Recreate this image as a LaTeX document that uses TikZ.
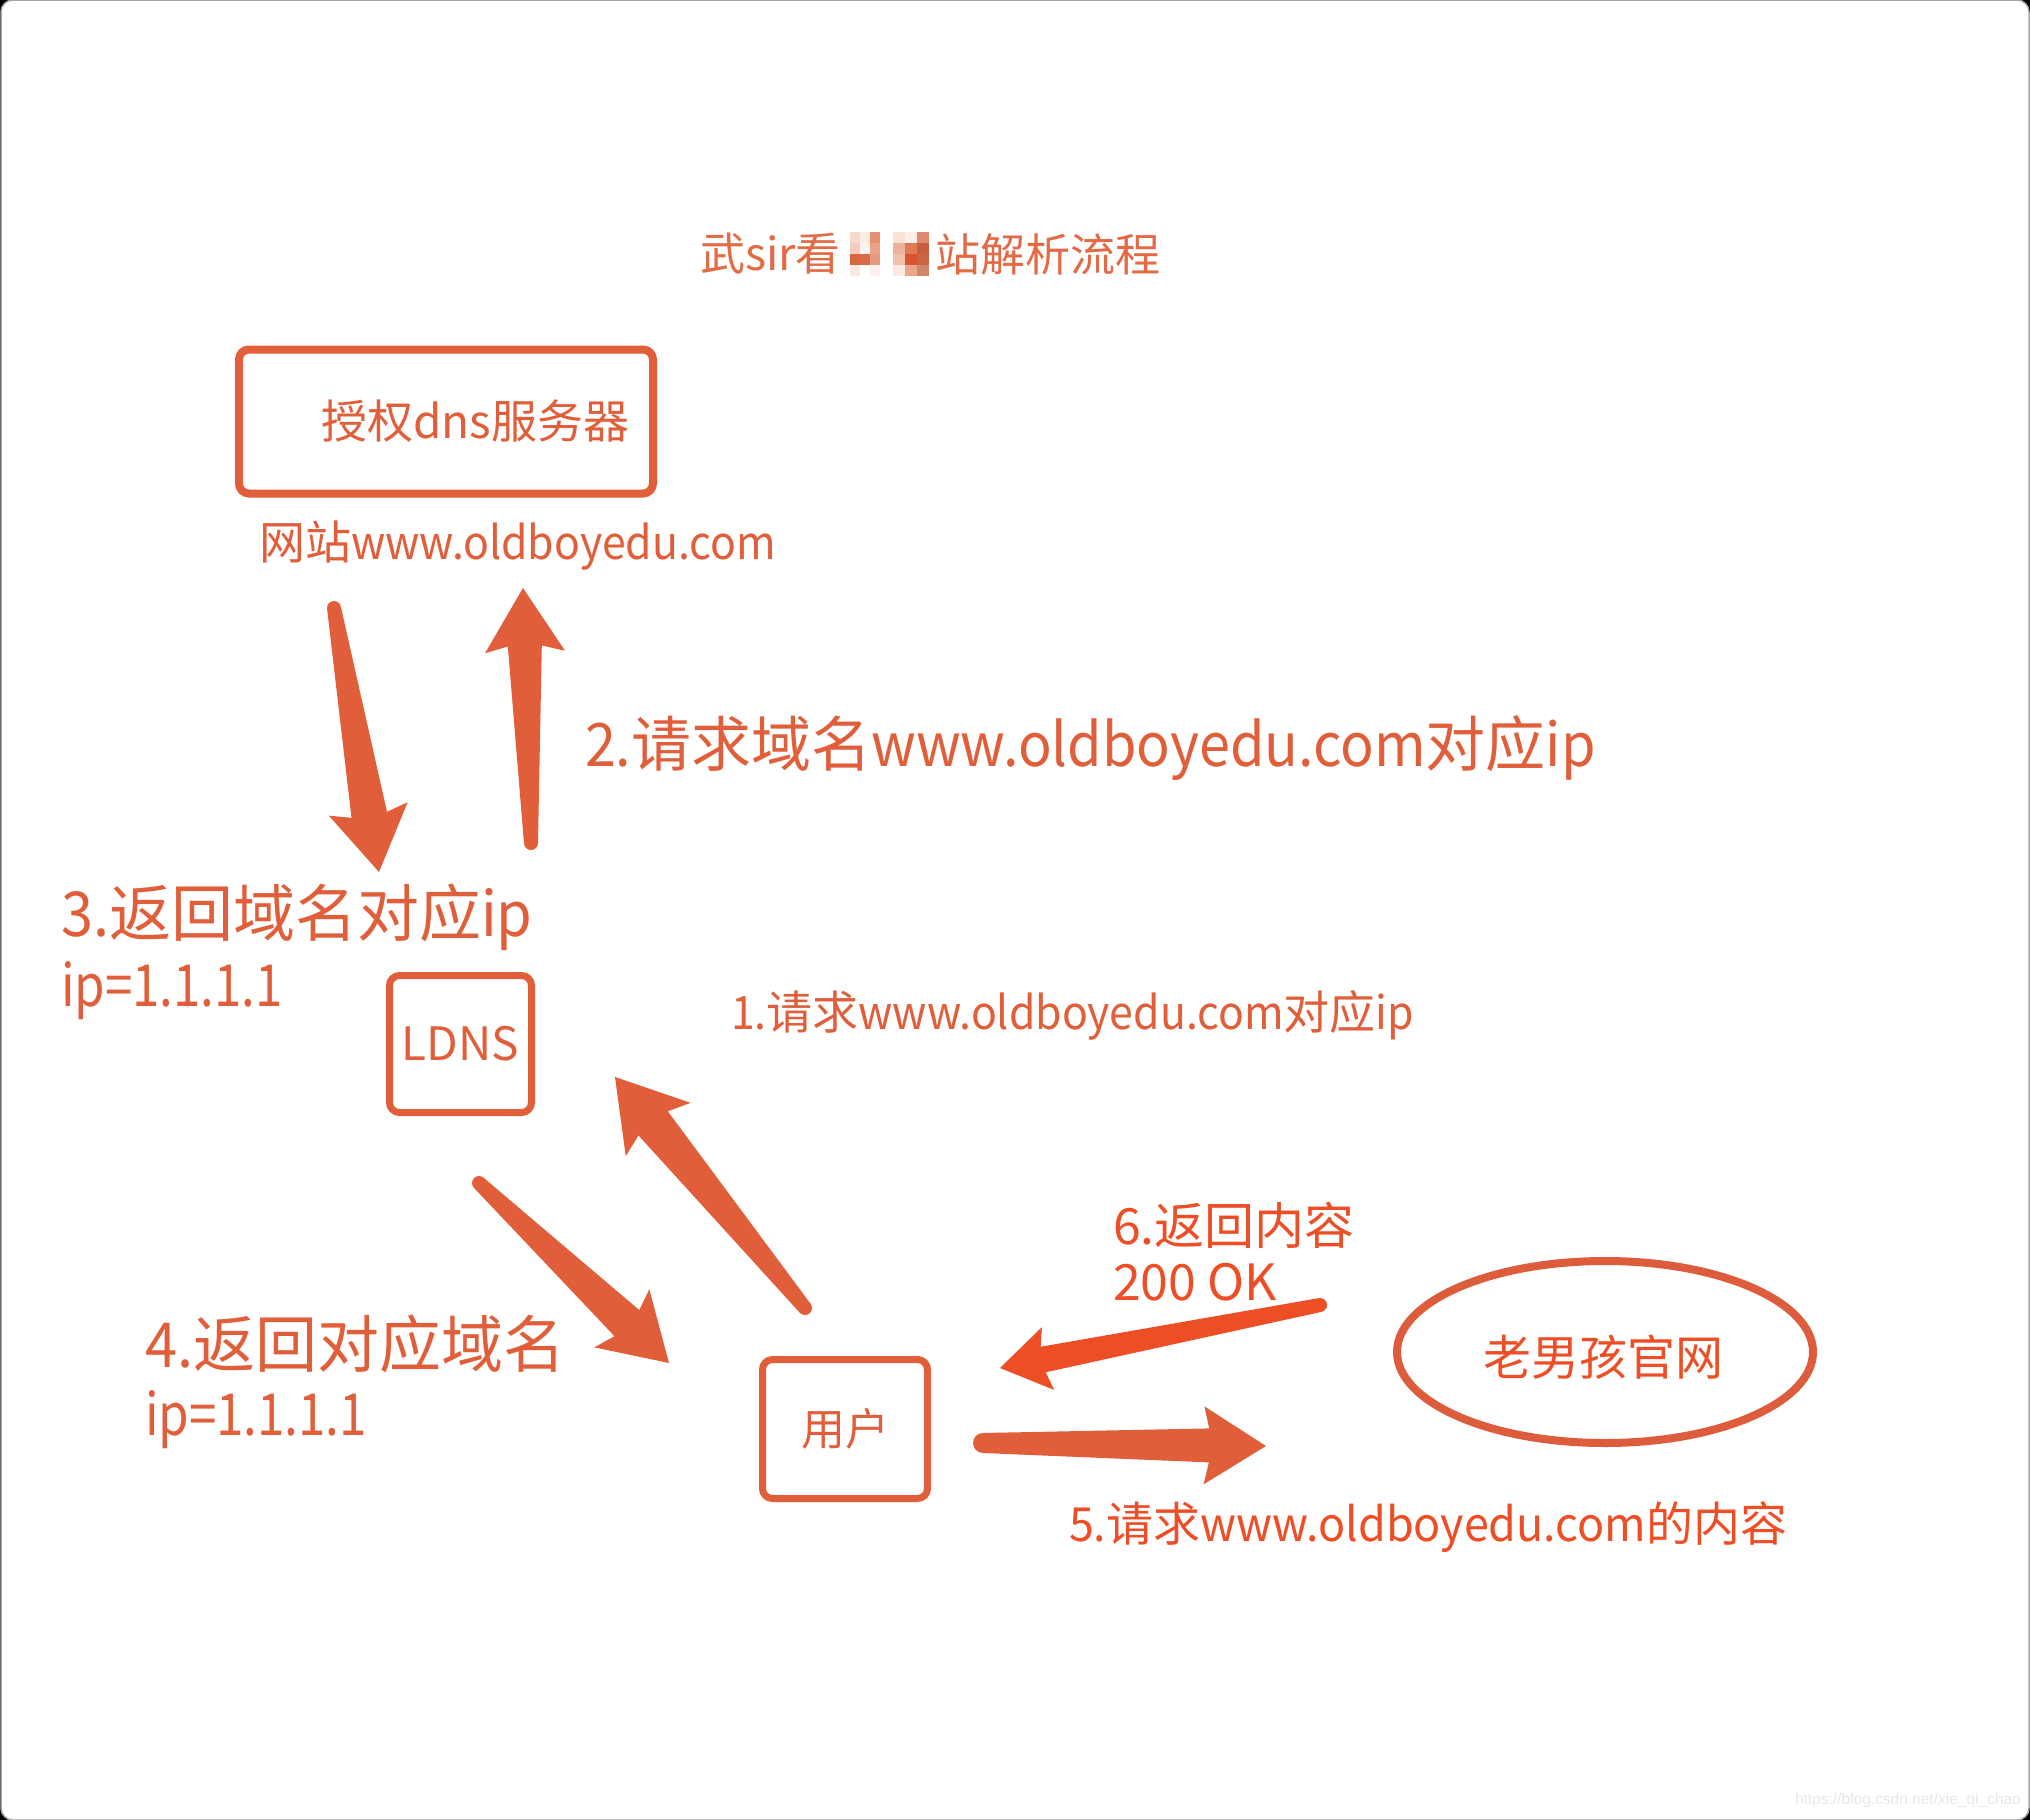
\documentclass[tikz,border=0pt]{standalone}
\usepackage{fontspec}
\setmainfont{Noto Sans CJK SC}
\newfontfamily\lat[FakeStretch=0.93]{Noto Sans CJK SC}
\newfontfamily\latb[FakeStretch=0.955]{Noto Sans CJK SC}
\newfontfamily\latn[FakeStretch=0.85]{Noto Sans CJK SC}
\newfontfamily\wmfont{Liberation Sans}
\usetikzlibrary{calc,shapes.geometric}
\definecolor{org}{HTML}{E05F3A}
\definecolor{ttl}{HTML}{E36A45}
\definecolor{redo}{HTML}{EE4E25}
\definecolor{elc}{HTML}{DC5C3C}
\newcommand\fs[1]{\fontsize{#1}{#1}\selectfont}
\newcommand\lt[1]{{\lat #1}}
\newcommand\ltb[1]{{\latb #1}}
% mosaic cell: colour, x, y, w, h
\newcommand\mcell[5]{\definecolor{mctmp}{HTML}{#1}\fill[mctmp] (#2,#3) rectangle ++(#4,#5);}
% #1 colour, #2 tail, #3 tip, #4 tail half width, #5 neck half width, #6 barb half width, #7 head length, #8 barb distance
\newcommand\fatarrow[8]{%
  \path ($(#3)!#7!(#2)$) coordinate (#2n) ($(#3)!#8!(#2)$) coordinate (#2b);
  \fill[#1] ($(#2)!#4!90:(#3)$) -- ($(#2n)!#5!90:(#3)$) -- ($(#2b)!#6!90:(#3)$) -- (#3)
    -- ($(#2b)!#6!-90:(#3)$) -- ($(#2n)!#5!-90:(#3)$) -- ($(#2)!#4!-90:(#3)$) -- cycle;
  \fill[#1] (#2) circle[radius=#4];
}
\begin{document}
\begin{tikzpicture}[x=1pt,y=-1pt,
  txt/.style={inner sep=0pt, outer sep=0pt, text=org},
  boxnode/.style={draw=org, rounded corners=10pt, inner sep=0pt, text=org}]
\useasboundingbox (0,0) rectangle (2030,1820);
\fill[black] (0,0) rectangle (2030,1820);
\fill[white, draw=gray!70, line width=1.5pt, rounded corners=12pt] (1,0) rectangle (2029,1820);

% title
\node[txt, text=ttl, font=\fs{45}, anchor=west] (title1) at (700,254) {武sir看};
\mcell{F6D9CC}{850}{232}{10}{11}
\mcell{FBEDE6}{860}{232}{10}{11}
\mcell{E7906F}{870}{232}{10}{11}
\mcell{F4CDBD}{850}{243}{10}{11}
\mcell{FDF3EE}{860}{243}{10}{11}
\mcell{EBA184}{870}{243}{10}{11}
\mcell{D9663F}{850}{254}{10}{11}
\mcell{D86A45}{860}{254}{10}{11}
\mcell{E49A7F}{870}{254}{10}{11}
\mcell{FAE9E2}{850}{265}{10}{11}
\mcell{FBF0EB}{870}{265}{10}{11}
\mcell{F9E3D9}{893}{232}{12}{11}
\mcell{FCEDE6}{905}{232}{12}{11}
\mcell{DE8A6B}{917}{232}{12}{11}
\mcell{EEB29A}{893}{243}{12}{11}
\mcell{E07A55}{905}{243}{12}{11}
\mcell{C8603F}{917}{243}{12}{11}
\mcell{F2C1AD}{893}{254}{12}{11}
\mcell{DB5330}{905}{254}{12}{11}
\mcell{C76544}{917}{254}{12}{11}
\mcell{FBEAE2}{893}{265}{12}{11}
\mcell{EAA58A}{905}{265}{12}{11}
\mcell{D0866A}{917}{265}{12}{11}
\node[txt, text=ttl, font=\fs{45}, anchor=west] (title2) at (935,254) {站解析流程};

% authoritative dns box
\node[boxnode, line width=8pt, minimum width=414, minimum height=144] (auth) at (446,421.5) {};
\node[txt, font=\fs{46}, anchor=west] (authT) at (321,421) {授权dns服务器};
\node[txt, font=\fs{46}, anchor=west] (site1) at (259,546) {网站\lt{www.oldboyedu.com}};

% LDNS and user boxes
\node[boxnode, line width=7pt, minimum width=142, minimum height=137, font=\fs{46}] (ldns) at (460.5,1044) {LDNS};
\node[boxnode, line width=7pt, minimum width=165, minimum height=139, font=\fs{44}] (user) at (845,1429) {用户};

% official site ellipse
\node[ellipse, draw=elc, line width=8pt, minimum width=416, minimum height=182, inner sep=0pt] (site) at (1605,1352) {};
\node[txt, text=redo, font=\fs{48}] (siteT) at (1603,1357) {老男孩官网};

% labels
\node[txt, font=\fs{60}, anchor=west] (l2) at (585,748) {\lt{2.}请求域名\lt{www.oldboyedu.com}对应\lt{ip}};
\node[txt, font=\fs{62}, anchor=west] (l3) at (61,917) {\lt{3.}返回域名对应\lt{ip}};
\node[txt, font=\latn\fs{58}, anchor=base west] (l3b) at (61,1006) {ip=1.1.1.1};
\node[txt, font=\fs{46}, anchor=west] (l1) at (731,1015) {\lt{1.}请求\lt{www.oldboyedu.com}对应\lt{ip}};
\node[txt, font=\fs{62}, anchor=west] (l4) at (145,1344) {\lt{4.}返回对应域名};
\node[txt, font=\latn\fs{58}, anchor=base west] (l4b) at (145,1435) {ip=1.1.1.1};
\node[txt, text=redo, font=\fs{50}, anchor=west] (l6) at (1113,1225) {6.返回内容};
\node[txt, text=redo, font=\fs{50}, anchor=base west] (l6b) at (1113,1300) {200 OK};
\node[txt, text=redo, font=\fs{47}, anchor=west] (l5) at (1069,1527) {\ltb{5.}请求\ltb{www.oldboyedu.com}的内容};

% arrows
\coordinate (a3t) at (334,608); \coordinate (a3h) at (379,872);
\fatarrow{org}{a3t}{a3h}{7pt}{18pt}{40pt}{58pt}{64pt}
\coordinate (a2t) at (531,843); \coordinate (a2h) at (523,588);
\fatarrow{org}{a2t}{a2h}{7pt}{17pt}{40pt}{58pt}{64pt}
\coordinate (a1t) at (805,1308); \coordinate (a1h) at (615,1077);
\fatarrow{org}{a1t}{a1h}{7pt}{19pt}{42pt}{60pt}{68pt}
\coordinate (a4t) at (479,1183); \coordinate (a4h) at (669,1363);
\fatarrow{org}{a4t}{a4h}{7pt}{18pt}{40pt}{58pt}{65pt}
\coordinate (a5t) at (983,1443); \coordinate (a5h) at (1266,1446);
\fatarrow{org}{a5t}{a5h}{10pt}{17pt}{39pt}{57pt}{62pt}
\coordinate (a6t) at (1320,1305); \coordinate (a6h) at (1000,1368);
\fatarrow{redo}{a6t}{a6h}{7pt}{13pt}{32pt}{44pt}{49pt}

% watermark
\node[inner sep=0pt, anchor=east, text=gray!18, font=\wmfont\fontsize{15.5}{18}\selectfont] (wm) at (2021,1800) {https://blog.csdn.net/xie\_qi\_chao};
\end{tikzpicture}
\end{document}
